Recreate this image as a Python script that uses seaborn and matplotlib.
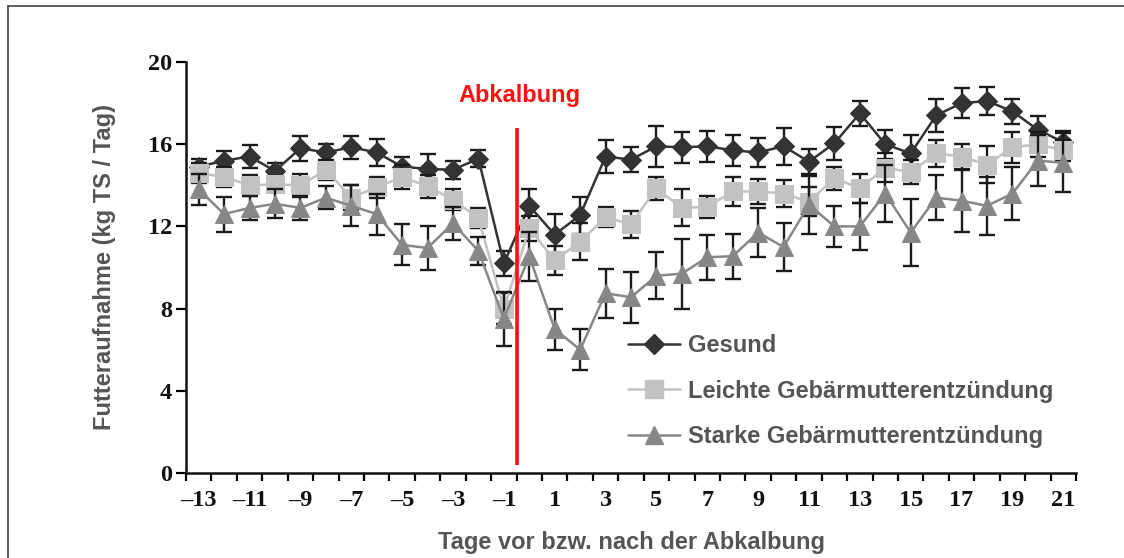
import matplotlib
matplotlib.use("Agg")
import matplotlib.pyplot as plt
import seaborn as sns
import pandas as pd
from matplotlib.lines import Line2D
from matplotlib.ticker import FixedLocator

days = list(range(-13, 22))

gesund = [14.9, 15.2, 15.4, 14.7, 15.8, 15.6, 15.85, 15.6, 14.9, 14.8, 14.75, 15.3, 10.2,
          13.0, 11.6, 12.55, 15.4, 15.25, 15.9, 15.85, 15.9, 15.7, 15.6, 15.9, 15.15,
          16.05, 17.5, 16.0, 15.55, 17.4, 18.0, 18.1, 17.6, 16.7, 16.1]
gesund_err = [0.4, 0.45, 0.55, 0.4, 0.6, 0.4, 0.55, 0.65, 0.5, 0.7, 0.45, 0.4, 0.6,
              0.8, 1.0, 0.9, 0.8, 0.6, 1.0, 0.75, 0.75, 0.75, 0.7, 0.9, 0.6,
              0.8, 0.62, 0.7, 0.9, 0.8, 0.73, 0.68, 0.6, 0.67, 0.55]

leichte = [14.6, 14.4, 14.0, 14.05, 14.0, 14.75, 13.4, 13.9, 14.4, 13.95, 13.3, 12.4, 8.0,
           11.9, 10.35, 11.25, 12.45, 12.1, 13.85, 12.9, 12.95, 13.7, 13.7, 13.6, 13.2,
           14.35, 13.85, 14.85, 14.65, 15.55, 15.4, 15.0, 15.85, 16.0, 15.7]
leichte_err = [0.5, 0.5, 0.5, 0.4, 0.55, 0.5, 0.6, 0.5, 0.6, 0.55, 0.5, 0.5, 0.75,
               0.6, 0.7, 0.9, 0.5, 0.65, 0.55, 0.9, 0.55, 0.7, 0.6, 0.65, 0.7,
               0.56, 0.7, 0.7, 0.57, 0.65, 0.6, 0.9, 0.75, 0.6, 0.5]

starke = [13.8, 12.6, 12.9, 13.1, 12.9, 13.4, 13.0, 12.6, 11.1, 10.95, 12.15, 10.8, 7.5,
          10.55, 7.0, 6.0, 8.75, 8.55, 9.6, 9.7, 10.5, 10.55, 11.7, 11.0, 13.05,
          12.0, 12.0, 13.6, 11.7, 13.4, 13.25, 13.0, 13.6, 15.2, 15.1]
starke_err = [0.75, 0.85, 0.6, 0.7, 0.6, 0.55, 1.0, 1.0, 1.0, 1.05, 0.8, 0.7, 1.3,
              1.2, 1.0, 1.0, 1.2, 1.25, 1.15, 1.7, 1.1, 1.1, 1.2, 1.15, 1.4,
              1.0, 1.15, 1.4, 1.65, 1.1, 1.5, 1.4, 1.3, 1.25, 1.45]

series_names = ["Gesund", "Leichte Gebärmutterentzündung", "Starke Gebärmutterentzündung"]
x_tick_labels = ["\u2013" + str(-d) if d < 0 else str(d) for d in range(-13, 22, 2)]
y_ticks = [0, 4, 8, 12, 16, 20]

colors = ["#333333", "#c2c2c2", "#878787"]
markers = ["D", "s", "^"]
msizes = [10, 12.5, 13]

sns.set_theme(style="white")
plt.rcParams["font.family"] = ["Liberation Sans", "DejaVu Sans"]

fig = plt.figure(figsize=(11.24, 5.58), dpi=100)
ax = fig.add_axes([186 / 1124, 1 - 473 / 558, (1076 - 186) / 1124, (473 - 62) / 558])

values = [gesund, leichte, starke]
errs = [gesund_err, leichte_err, starke_err]

rows = []
for name, vals in zip(series_names, values):
    for d, v in zip(days, vals):
        rows.append({"Tag": d, "Wert": v, "Gruppe": name})
df = pd.DataFrame(rows)

for i, (name, vals, er) in enumerate(zip(series_names, values, errs)):
    ax.errorbar(days, vals, yerr=er, fmt="none", ecolor="#1a1a1a", elinewidth=1.7,
                capsize=5.5, capthick=1.7, zorder=2 + 2 * i)
    sub = df[df["Gruppe"] == name]
    sns.lineplot(data=sub, x="Tag", y="Wert", ax=ax, color=colors[i], marker=markers[i],
                 markersize=msizes[i], markeredgecolor=colors[i], linewidth=1.8,
                 legend=False, zorder=3 + 2 * i, errorbar=None)

# Abkalbung line
ax.plot([-0.5, -0.5], [0.4, 16.8], color="#ff1010", lw=2.6, zorder=10, solid_capstyle="butt")
ax.text(-0.4, 18.35, "Abkalbung", color="#ff1010", fontsize=17, fontweight="bold",
        ha="center", va="center")

ax.set_xlim(-13.5, 21.5)
ax.set_ylim(0, 20)
ax.xaxis.set_major_locator(FixedLocator(list(range(-13, 22, 2))))
ax.set_xticklabels(x_tick_labels)
ax.xaxis.set_minor_locator(FixedLocator([d + 0.5 for d in range(-14, 22)]))
ax.set_yticks(y_ticks)
ax.tick_params(axis="x", which="major", length=0, pad=12)
ax.tick_params(axis="x", which="minor", length=6, width=1.6, direction="out", color="black", bottom=True)
ax.tick_params(axis="y", which="major", length=7, width=1.6, direction="out", color="black", left=True, pad=3)
for lab in ax.get_xticklabels() + ax.get_yticklabels():
    lab.set_fontfamily(["Liberation Serif", "DejaVu Serif"])
    lab.set_fontweight("bold")
    lab.set_fontsize(17.5)
    lab.set_color("#111111")

for s in ["top", "right"]:
    ax.spines[s].set_visible(False)
for s in ["left", "bottom"]:
    ax.spines[s].set_color("#111111")
    ax.spines[s].set_linewidth(1.8)
ax.set_facecolor("white")

ax.set_xlabel("Tage vor bzw. nach der Abkalbung", fontsize=17, fontweight="bold",
              color="#555555", labelpad=15)
ax.set_ylabel("Futteraufnahme (kg TS / Tag)", fontsize=17, fontweight="bold",
              color="#555555", labelpad=23)

handles = [Line2D([0], [0], color=c, marker=m, markersize=ms, markeredgecolor=c, lw=1.8)
           for c, m, ms in zip(colors, markers, msizes)]
leg = ax.legend(handles, series_names, loc="upper left", bbox_to_anchor=(607 / 1124, 1 - 313 / 558),
                bbox_transform=fig.transFigure, frameon=False, handlelength=2.2,
                labelspacing=0.95, prop={"weight": "bold", "size": 17}, handletextpad=0.35)
for t in leg.get_texts():
    t.set_color("#555555")

# frame around figure
fig.add_artist(Line2D([8 / 1124, 8 / 1124], [0, 1 - 6 / 558], transform=fig.transFigure,
                      color="#444444", lw=1.2))
fig.add_artist(Line2D([8 / 1124, 1], [1 - 6 / 558, 1 - 6 / 558], transform=fig.transFigure,
                      color="#444444", lw=1.2))

fig.savefig("out.png", dpi=100, facecolor="white")
